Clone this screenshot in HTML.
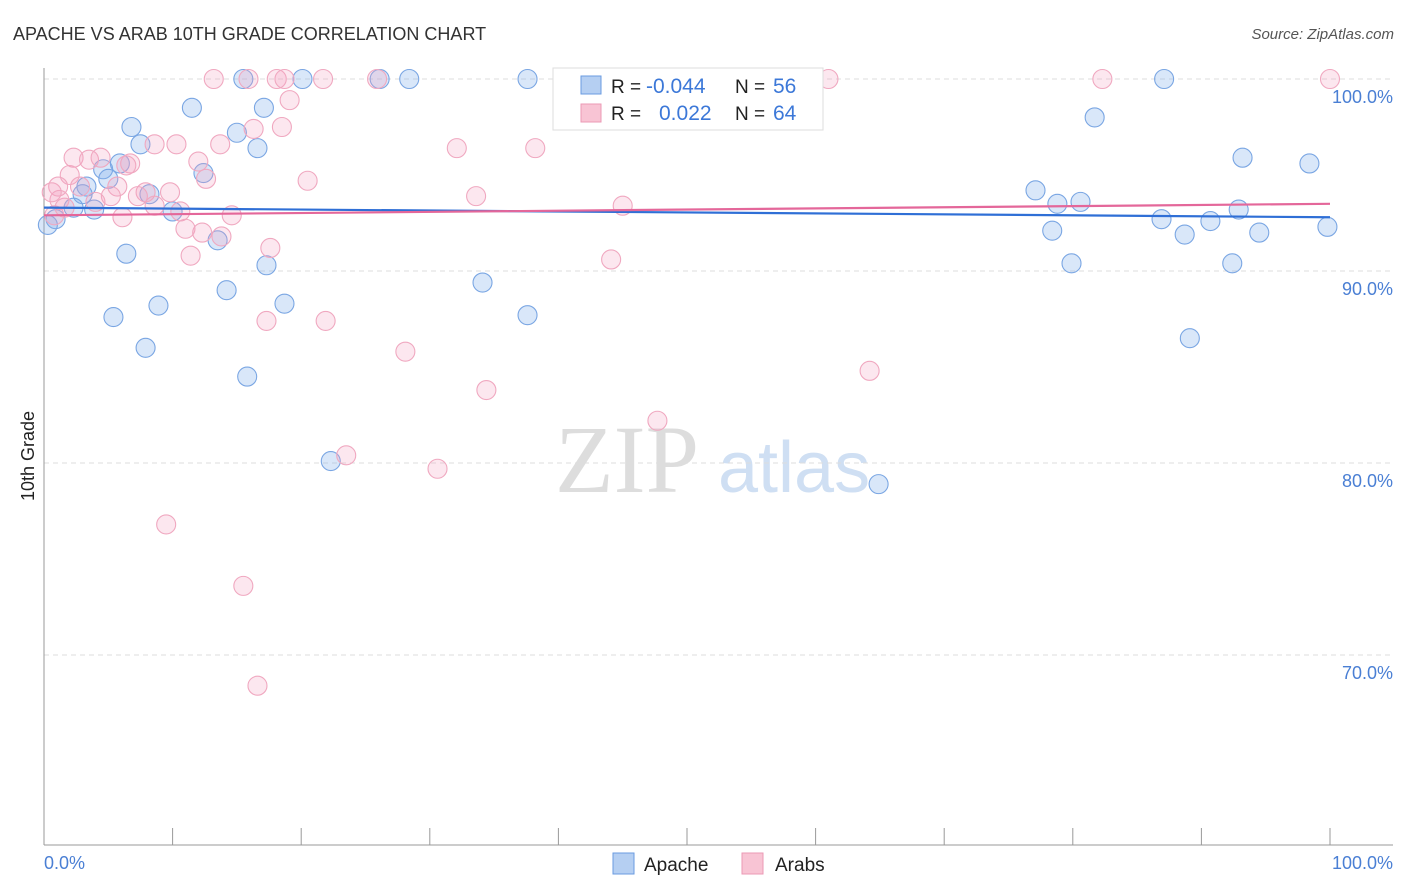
<!DOCTYPE html>
<html><head><meta charset="utf-8"><style>
body{margin:0;background:#fff;font-family:"Liberation Sans",sans-serif}
svg{display:block}
</style></head><body>
<svg id="c" width="1406" height="892">
<text x="13" y="40" font-size="18" fill="#333">APACHE VS ARAB 10TH GRADE CORRELATION CHART</text>
<text x="1394" y="39" font-size="15" fill="#555" font-style="italic" text-anchor="end">Source: ZipAtlas.com</text>
<text x="555" y="492" font-size="96" fill="#ddd" font-family="Liberation Serif,serif">ZIP</text>
<text x="718" y="492" font-size="72" fill="#cfdff3">atlas</text>
<g id="grid"></g>
<line x1="44" y1="68" x2="44" y2="845" stroke="#999"/>
<line x1="44" y1="845" x2="1393" y2="845" stroke="#999"/>
<g id="ticks"></g>
<text transform="translate(34,456) rotate(-90)" font-size="18" fill="#222" text-anchor="middle">10th Grade</text>
<text x="44" y="869" font-size="18" fill="#4a7fd4">0.0%</text>
<text x="1393" y="869" font-size="18" fill="#4a7fd4" text-anchor="end">100.0%</text>
<g id="pts"></g>
<g id="lines"></g>
<g>
<rect x="553" y="68" width="270" height="62" fill="#fff" stroke="#ddd"/>
<rect x="581" y="76" width="20" height="18" fill="#b5cff2" stroke="#6a9be0"/>
<rect x="581" y="104" width="20" height="18" fill="#f8c4d4" stroke="#eb9ab5"/>
<text x="611" y="93" font-size="19" fill="#222">R =</text>
<text x="646" y="93" font-size="21" fill="#3c78d8">-0.044</text>
<text x="735" y="93" font-size="19" fill="#222">N =</text>
<text x="773" y="93" font-size="21" fill="#3c78d8">56</text>
<text x="611" y="120" font-size="19" fill="#222">R =</text>
<text x="659" y="120" font-size="21" fill="#3c78d8">0.022</text>
<text x="735" y="120" font-size="19" fill="#222">N =</text>
<text x="773" y="120" font-size="21" fill="#3c78d8">64</text>
</g>
<g>
<rect x="613" y="853" width="21" height="21" fill="#b5cff2" stroke="#6a9be0"/>
<text x="644" y="871" font-size="19" fill="#222">Apache</text>
<rect x="742" y="853" width="21" height="21" fill="#f8c4d4" stroke="#eb9ab5"/>
<text x="775" y="871" font-size="19" fill="#222">Arabs</text>
</g>
</svg>
<script>
const yTicks=[100,90,80,70];
const yTickLabels=["100.0%","90.0%","80.0%","70.0%"];
const xTicks=[10,20,30,40,50,60,70,80,90,100];
const apacheX=[15.5,20.1,26.1,28.4,37.6,87.1,11.5,17.1,6.8,15.0,7.5,16.6,81.7,93.2,98.4,4.6,5.9,5.0,12.4,3.3,3.0,8.2,77.1,78.8,80.6,2.3,3.9,10.0,0.9,0.3,86.9,90.7,78.4,88.7,92.9,94.5,99.8,13.5,6.4,17.3,79.9,92.4,34.1,14.2,18.7,8.9,5.4,37.6,89.1,7.9,15.8,22.3,64.9];
const apacheY=[100,100,100,100,100,100,98.5,98.5,97.5,97.2,96.6,96.4,98.0,95.9,95.6,95.3,95.6,94.8,95.1,94.4,94.0,94.0,94.2,93.5,93.6,93.3,93.2,93.1,92.7,92.4,92.7,92.6,92.1,91.9,93.2,92.0,92.3,91.6,90.9,90.3,90.4,90.4,89.4,89.0,88.3,88.2,87.6,87.7,86.5,86.0,84.5,80.1,78.9];
const arabsX=[13.2,15.9,18.1,18.7,21.7,25.9,47.1,61.0,82.3,100,19.1,16.3,18.5,10.3,8.6,13.7,32.1,38.2,2.3,3.5,4.4,12.0,6.7,6.4,12.6,20.5,2.0,1.1,2.8,5.7,7.9,9.8,33.6,5.2,7.3,4.0,1.2,8.6,10.6,14.6,6.1,45.0,0.8,11.0,12.3,13.8,17.6,11.4,44.1,17.3,21.9,28.1,34.4,64.2,47.7,23.5,30.6,9.5,15.5,16.6,0.6,1.6];
const arabsY=[100,100,100,100,100,100,100,100,100,100,98.9,97.4,97.5,96.6,96.6,96.6,96.4,96.4,95.9,95.8,95.9,95.7,95.6,95.5,94.8,94.7,95.0,94.4,94.4,94.4,94.1,94.1,93.9,93.9,93.9,93.6,93.7,93.4,93.1,92.9,92.8,93.4,92.9,92.2,92.0,91.8,91.2,90.8,90.6,87.4,87.4,85.8,83.8,84.8,82.2,80.4,79.7,76.8,73.6,68.4,94.1,93.3];
const apacheTrend=[93.3,92.8];
const arabsTrend=[92.9,93.5];
const X=v=>44+v*12.86, Y=v=>79+(100-v)*19.2;
const NS="http://www.w3.org/2000/svg";
function mk(t,a,p){const e=document.createElementNS(NS,t);for(const k in a)e.setAttribute(k,a[k]);p.appendChild(e);return e;}
const grid=document.getElementById('grid');
yTicks.forEach((t,i)=>{
 const l=mk('line',{x1:44,x2:1393,y1:Y(t),y2:Y(t),stroke:'#ddd','stroke-dasharray':'5,4'},grid);
 
 
 const tx=mk('text',{x:1393,y:Y(t)+24,'font-size':18,fill:'#4a7fd4','text-anchor':'end'},grid);
 tx.textContent=yTickLabels[i];
 
 
});
const tk=document.getElementById('ticks');
xTicks.forEach(t=>{
 const l=mk('line',{x1:X(t),x2:X(t),y1:828,y2:845,stroke:'#999'},tk);
 
 
});
const pts=document.getElementById('pts');
apacheX.forEach((x,i)=>{
 const c=mk('circle',{cx:X(x),cy:Y(apacheY[i]),r:9.5,fill:'rgba(130,175,235,0.3)',stroke:'#7aa6e3','stroke-width':1.1},pts);
 
 
});
arabsX.forEach((x,i)=>{
 const c=mk('circle',{cx:X(x),cy:Y(arabsY[i]),r:9.5,fill:'rgba(245,160,190,0.25)',stroke:'#f0a8c0','stroke-width':1.1},pts);
 
 
});
const lg=document.getElementById('lines');
const a=mk('line',{x1:X(0),x2:X(100),y1:Y(apacheTrend[0]),y2:Y(apacheTrend[1]),stroke:'#2f6fd6','stroke-width':2.2},lg);


const b=mk('line',{x1:X(0),x2:X(100),y1:Y(arabsTrend[0]),y2:Y(arabsTrend[1]),stroke:'#e4679a','stroke-width':2.2},lg);


</script>
</body></html>
